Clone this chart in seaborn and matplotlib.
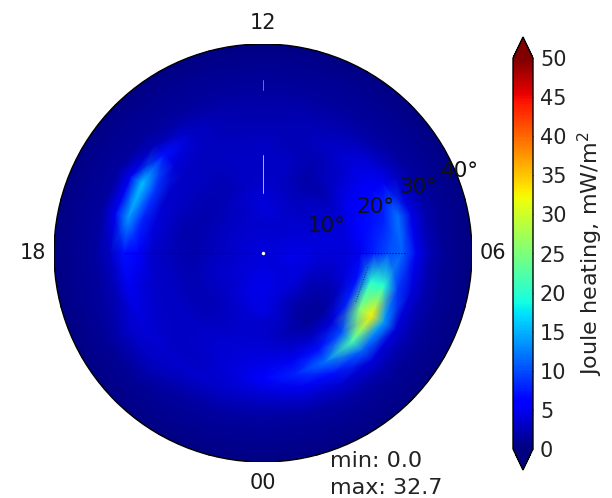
import numpy as np
import pandas as pd
import matplotlib
matplotlib.use('Agg')
import matplotlib.pyplot as plt
from matplotlib.patches import Circle
from matplotlib.projections.polar import PolarTransform
from matplotlib.transforms import Affine2D
import seaborn as sns

# values, one list per colatitude ring, MLT 00..23
ring_00 = [4.0] * 24
ring_03 = [4.2, 4.2, 4.0, 4.0, 4.0, 4.2, 4.2, 4.0, 4.0, 3.8, 3.8, 3.8, 3.8, 3.8, 3.8, 3.8, 3.8, 3.8, 3.8, 3.8, 4.0, 4.0, 4.0, 4.2]
ring_06 = [4.5, 4.5, 4.2, 4.0, 4.2, 4.5, 4.5, 4.2, 4.0, 3.5, 3.5, 3.5, 3.5, 3.5, 3.5, 3.5, 3.5, 3.5, 3.5, 3.5, 3.8, 4.0, 4.2, 4.5]
ring_09 = [4.5, 4.2, 4.0, 4.0, 4.0, 4.2, 4.5, 4.0, 3.8, 3.5, 3.5, 3.8, 4.0, 3.5, 3.0, 3.0, 3.0, 3.0, 3.0, 3.2, 3.5, 3.5, 4.0, 4.5]
ring_12 = [4.5, 3.5, 2.5, 2.5, 2.5, 3.5, 4.0, 4.0, 3.5, 3.0, 3.0, 3.5, 4.0, 3.5, 3.0, 2.5, 2.5, 2.5, 2.5, 3.0, 3.0, 3.0, 3.5, 4.0]
ring_15 = [3.5, 3.0, 1.5, 1.5, 2.0, 3.0, 4.0, 4.0, 3.5, 3.0, 2.5, 3.0, 3.5, 3.0, 2.5, 2.2, 2.0, 2.0, 2.0, 2.2, 2.5, 2.5, 3.0, 3.5]
ring_18 = [3.5, 2.5, 1.2, 1.2, 2.5, 4.0, 4.0, 4.0, 3.5, 2.0, 1.8, 3.0, 3.0, 3.0, 2.5, 2.5, 2.5, 2.0, 2.2, 2.5, 2.5, 2.5, 3.0, 3.5]
ring_21 = [4.0, 3.5, 3.0, 4.0, 8.0, 7.0, 5.0, 5.5, 5.0, 3.0, 2.0, 3.0, 3.0, 3.0, 2.8, 3.0, 3.0, 3.0, 2.8, 3.0, 3.0, 3.0, 3.5, 3.8]
ring_24 = [4.5, 5.0, 7.0, 10.0, 25.0, 20.0, 8.0, 7.0, 6.0, 3.5, 2.5, 2.5, 3.0, 2.8, 2.8, 3.0, 3.5, 4.0, 3.5, 3.2, 3.0, 3.0, 3.5, 4.0]
ring_27 = [5.5, 8.0, 12.0, 22.0, 32.7, 20.0, 10.0, 8.0, 6.0, 4.0, 3.0, 2.5, 2.5, 2.5, 3.0, 4.0, 9.0, 8.0, 6.0, 4.0, 3.5, 3.0, 3.0, 4.0]
ring_30 = [4.0, 5.0, 7.0, 11.0, 14.0, 9.0, 11.0, 12.0, 5.0, 3.5, 2.5, 2.2, 2.0, 2.2, 3.0, 7.0, 16.0, 14.0, 7.0, 5.0, 4.0, 3.5, 3.5, 3.5]
ring_33 = [2.5, 3.0, 3.5, 4.0, 4.0, 4.0, 5.0, 4.5, 3.0, 2.0, 1.8, 1.8, 1.8, 1.8, 2.0, 2.5, 5.0, 5.0, 3.0, 2.5, 3.5, 3.0, 2.5, 2.5]
ring_36 = [1.5, 1.5, 1.8, 2.0, 2.0, 2.0, 2.2, 2.0, 1.5, 1.2, 1.2, 1.2, 1.2, 1.2, 1.2, 1.3, 1.5, 1.5, 1.5, 1.5, 2.0, 2.0, 1.5, 1.5]
ring_39 = [1.0] * 24
ring_42 = [0.6] * 24
ring_45 = [0.3] * 24

colat_rings = [0, 3, 6, 9, 12, 15, 18, 21, 24, 27, 30, 33, 36, 39, 42, 45]
mlt_hours = list(range(25))
cbar_ticks = list(range(0, 55, 5))

hour_labels = ['12', '18', '06', '00']
hour_label_x = [0, -49.5, 49.5, 0]
hour_label_y = [49.5, 0, 0, -49.5]
ring_labels = ['10°', '20°', '30°', '40°']
ring_label_x = [13.8, 24.1, 33.4, 42.4]
ring_label_y = [5.8, 9.9, 14.2, 17.7]

rings = [ring_00, ring_03, ring_06, ring_09, ring_12, ring_15, ring_18, ring_21,
         ring_24, ring_27, ring_30, ring_33, ring_36, ring_39, ring_42, ring_45]
# close the circle at 24 h
df = pd.DataFrame([r + [r[0]] for r in rings], index=colat_rings, columns=mlt_hours)

sns.set_style('white')
plt.rcParams['font.family'] = ['DejaVu Sans']
plt.rcParams['font.size'] = 15

fig = plt.figure(figsize=(6.12, 4.98), dpi=100)
ax = fig.add_axes([54 / 612, 36 / 498, 418 / 612, 418 / 498])
# cax runs tip to tip, the arrows are drawn inside it
cax = fig.add_axes([513 / 612, 28 / 498, 20 / 612, 433 / 498])

# grid index -> hours/colatitude -> circle on plain axes
to_disc = (Affine2D().scale(2 * np.pi / 24, 3).translate(-np.pi / 2, 0)
           + PolarTransform(apply_theta_transforms=False) + ax.transData)
sns.heatmap(df, ax=ax, cbar_ax=cax, cmap='jet',
            vmin=0, vmax=50, shading='gouraud', transform=to_disc,
            xticklabels=False, yticklabels=False,
            cbar_kws={'extend': 'both', 'extendfrac': 0.054, 'ticks': cbar_ticks})

ax.set_xlim(-45, 45)
ax.set_ylim(-45, 45)
ax.set_aspect('equal')
ax.set_xlabel('')
ax.set_ylabel('')
for s in ax.spines.values():
    s.set_visible(False)

# the 24-sided mesh falls short of the circle, fill the slivers
ax.add_patch(Circle((0, 0), 45, fc=plt.get_cmap('jet')(0.3 / 50), ec='none', zorder=0))
ax.collections[0].set_zorder(1)
ax.add_patch(Circle((0, 0), 45, fill=False, ec='black', lw=1, zorder=5))

# thin leftovers in the original map
ax.plot([-30, 31], [0, 0], ls=':', color='#000040', lw=0.8, alpha=0.8, zorder=2)
ax.plot([22.6, 20], [-3, -10.5], ls=':', color='#000040', lw=0.7, alpha=0.6, zorder=2)
ax.plot([0, 0], [12.9, 21], color='white', lw=0.6, alpha=0.8, zorder=2)
ax.plot([0, 0], [35, 37.2], color='white', lw=0.6, alpha=0.5, zorder=2)
ax.plot([0], [0], 'o', color='white', ms=2.5, mew=0, zorder=2)

for lab, x, y in zip(hour_labels, hour_label_x, hour_label_y):
    ax.text(x, y, lab, ha='center', va='center', fontsize=15, color='#1a1a1a', clip_on=False)
for lab, x, y in zip(ring_labels, ring_label_x, ring_label_y):
    ax.text(x, y, lab, ha='center', va='center', fontsize=15.5, color='#111111', clip_on=False, zorder=6)
ax.text(14.4, -44.8, 'min: 0.0', ha='left', va='center', fontsize=16, color='#222222', clip_on=False, zorder=6)
ax.text(14.4, -50.6, 'max: 32.7', ha='left', va='center', fontsize=16, color='#222222', clip_on=False, zorder=6)

cb = ax.collections[0].colorbar
cb.outline.set_linewidth(1)
cb.outline.set_edgecolor('black')
cb.ax.tick_params(labelsize=15, length=4, pad=5, direction='in', right=True, color='#222222', labelcolor='#222222')
cb.set_label('Joule heating, mW/m$^2$', fontsize=16, color='#222222', labelpad=7)

fig.savefig('out.png', dpi=100)
